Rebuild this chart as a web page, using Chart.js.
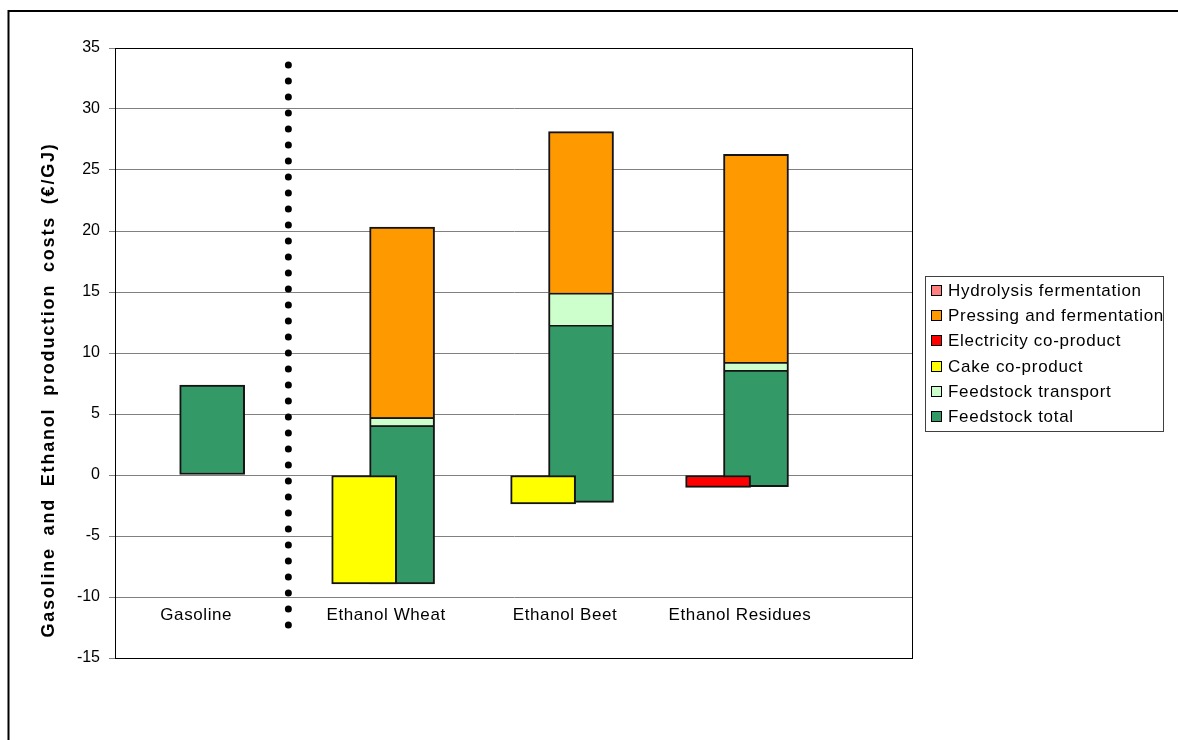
<!DOCTYPE html>
<html>
<head>
<meta charset="utf-8">
<title>Gasoline and ethanol production costs</title>
<script src="https://cdn.jsdelivr.net/npm/chart.js@4.4.1/dist/chart.umd.min.js"></script>
<style>
  html, body { margin: 0; padding: 0; background: #ffffff; }
  canvas { display: block; }
</style>
</head>
<body>
<canvas id="costs" width="1178" height="740"></canvas>
<script>
// Production routes
const categories = ['Gasoline', 'Ethanol Wheat', 'Ethanol Beet', 'Ethanol Residues'];

// Feedstock block, lower and upper edge (€/GJ); it reaches below zero by the co-product credit
const feedstockLow  = [0, -8.93, -2.24, -0.96];
const feedstockHigh = [7.38, 4.07, 12.3, 8.6];

// Cost components stacked on top of the feedstock block (€/GJ)
const feedstockTransport     = [0, 0.66, 2.64, 0.66];
const pressingFermentation   = [0, 15.6, 13.2, 17.03];
const hydrolysisFermentation = [0, 0, 0, 0];

// Co-product credits (€/GJ)
const cakeCoproduct        = [0, -8.93, -2.38, 0];
const electricityCoproduct = [0, 0, 0, -1.01];

// Value axis
const yMin = -15, yMax = 35, yStep = 5;

// Layout along the hidden horizontal scale (0 .. 4)
const stackAt = [0.487, 1.439, 2.336, 3.213];
const creditOffset = -0.19;
const labelOffset = -0.08;
const dividerAt = 0.869;
const dividerSpan = [33.6, -12.45];

const FONT = "'Liberation Sans', Arial, Helvetica, sans-serif";
Chart.defaults.font.family = FONT;
Chart.defaults.color = '#000000';

const colours = {
  hydrolysis: '#FF8080',
  pressing: '#FF9900',
  electricity: '#FF0000',
  cake: '#FFFF00',
  transport: '#CCFFCC',
  feedstock: '#339966'
};

// Floating segment [from, to] for each route, skipping empty ones
function segments(lower, amount, at) {
  const out = [];
  categories.forEach((_, i) => {
    if (amount[i] !== 0) out.push({ x: at[i], y: [lower[i], lower[i] + amount[i]] });
  });
  return out;
}
const creditAt = stackAt.map(v => v + creditOffset);
const zeros = categories.map(() => 0);
const transportBase = feedstockHigh;
const pressingBase = feedstockHigh.map((v, i) => v + feedstockTransport[i]);
const hydrolysisBase = pressingBase.map((v, i) => v + pressingFermentation[i]);
const feedstockAmount = feedstockHigh.map((v, i) => v - feedstockLow[i]);

const barStyle = {
  type: 'bar',
  grouped: false,
  barThickness: 65,
  borderColor: '#141414',
  borderWidth: 2,
  borderSkipped: false
};
// segments resting on another segment share its top edge
const stackedStyle = Object.assign({}, barStyle, { borderSkipped: 'bottom' });

const datasets = [
  Object.assign({}, stackedStyle, {
    label: 'Hydrolysis fermentation', key: 'hydrolysis', order: 1,
    backgroundColor: colours.hydrolysis,
    data: segments(hydrolysisBase, hydrolysisFermentation, stackAt)
  }),
  Object.assign({}, stackedStyle, {
    label: 'Pressing and fermentation', key: 'pressing', order: 1,
    backgroundColor: colours.pressing,
    data: segments(pressingBase, pressingFermentation, stackAt)
  }),
  Object.assign({}, barStyle, {
    label: 'Electricity co-product', key: 'electricity', order: 0,
    backgroundColor: colours.electricity,
    data: segments(zeros, electricityCoproduct, creditAt)
  }),
  Object.assign({}, barStyle, {
    label: 'Cake co-product', key: 'cake', order: 0,
    backgroundColor: colours.cake,
    data: segments(zeros, cakeCoproduct, creditAt)
  }),
  Object.assign({}, stackedStyle, {
    label: 'Feedstock transport', key: 'transport', order: 1,
    backgroundColor: colours.transport,
    data: segments(transportBase, feedstockTransport, stackAt)
  }),
  Object.assign({}, barStyle, {
    label: 'Feedstock total', key: 'feedstock', order: 1,
    backgroundColor: colours.feedstock,
    data: segments(feedstockLow, feedstockAmount, stackAt)
  }),
  {
    // dotted divider between gasoline and the ethanol routes
    type: 'line', label: 'divider', order: 2,
    data: [{ x: dividerAt, y: dividerSpan[0] }, { x: dividerAt, y: dividerSpan[1] }],
    borderColor: '#000000', borderWidth: 7,
    borderDash: [0, 16], borderCapStyle: 'round',
    pointRadius: 0, fill: false
  }
];

const decor = {
  id: 'decor',
  beforeDraw(chart) {
    const { ctx, width, height } = chart;
    ctx.save();
    ctx.fillStyle = '#ffffff';
    ctx.fillRect(0, 0, width, height);
    ctx.strokeStyle = '#000000';
    ctx.lineWidth = 2;
    ctx.strokeRect(8.5, 11, width + 40, height + 40);
    ctx.restore();
  },
  afterDatasetsDraw(chart) {
    const { ctx, chartArea: a, scales: { x, y } } = chart;
    ctx.save();

    // plot frame
    ctx.strokeStyle = '#000000';
    ctx.lineWidth = 1;
    ctx.strokeRect(Math.round(a.left) + 0.5, Math.round(a.top) + 0.5,
                   Math.round(a.right - a.left) - 1, Math.round(a.bottom - a.top));

    // route names just under the -10 gridline
    ctx.fillStyle = '#000000';
    ctx.font = '17px ' + FONT;
    ctx.letterSpacing = '0.6px';
    ctx.textAlign = 'center';
    ctx.textBaseline = 'middle';
    categories.forEach((name, i) => {
      ctx.fillText(name, x.getPixelForValue(stackAt[i] + labelOffset), y.getPixelForValue(-10) + 18);
    });

    // value axis title
    ctx.save();
    ctx.translate(49, 390);
    ctx.rotate(-Math.PI / 2);
    ctx.font = 'bold 18px ' + FONT;
    ctx.letterSpacing = '1.8px';
    ctx.wordSpacing = '5px';
    ctx.fillText('Gasoline and Ethanol production costs (€/GJ)', 0, 0);
    ctx.restore();

    // legend box
    const items = chart.data.datasets.filter(d => d.key);
    const boxLeft = a.right + 12, boxW = 238, boxH = 155;
    const boxTop = (a.top + a.bottom) / 2 - boxH / 2;
    ctx.fillStyle = '#ffffff';
    ctx.fillRect(boxLeft, boxTop, boxW, boxH);
    ctx.strokeStyle = '#404040';
    ctx.lineWidth = 1;
    ctx.strokeRect(Math.round(boxLeft) + 0.5, Math.round(boxTop) + 0.5, boxW, boxH);
    ctx.font = '17px ' + FONT;
    ctx.letterSpacing = '0.7px';
    ctx.textAlign = 'left';
    ctx.textBaseline = 'middle';
    items.forEach((d, i) => {
      const cy = Math.round(boxTop + 15.5 + i * 25.2);
      ctx.fillStyle = d.backgroundColor;
      ctx.fillRect(boxLeft + 6, cy - 6, 11, 11);
      ctx.strokeStyle = '#000000';
      ctx.strokeRect(boxLeft + 6.5, cy - 5.5, 10, 10);
      ctx.fillStyle = '#000000';
      ctx.fillText(d.label, boxLeft + 23, cy);
    });
    ctx.restore();
  }
};

new Chart(document.getElementById('costs'), {
  type: 'bar',
  data: { datasets },
  options: {
    responsive: false,
    devicePixelRatio: 1,
    animation: false,
    layout: { padding: { left: 0, top: 48, right: 265, bottom: 82 } },
    plugins: { legend: { display: false }, tooltip: { enabled: false } },
    scales: {
      x: {
        type: 'linear', min: 0, max: 4, offset: false, display: false,
        grid: { display: false }
      },
      y: {
        type: 'linear', min: yMin, max: yMax,
        afterFit(scale) { scale.width = 115; },
        ticks: { stepSize: yStep, padding: 9, font: { size: 16 }, color: '#000000' },
        grid: { color: '#808080', lineWidth: 1, drawTicks: true, tickLength: 6, tickColor: '#808080' },
        border: { display: true, color: '#000000', width: 1 }
      }
    }
  },
  plugins: [decor]
});
</script>
</body>
</html>
